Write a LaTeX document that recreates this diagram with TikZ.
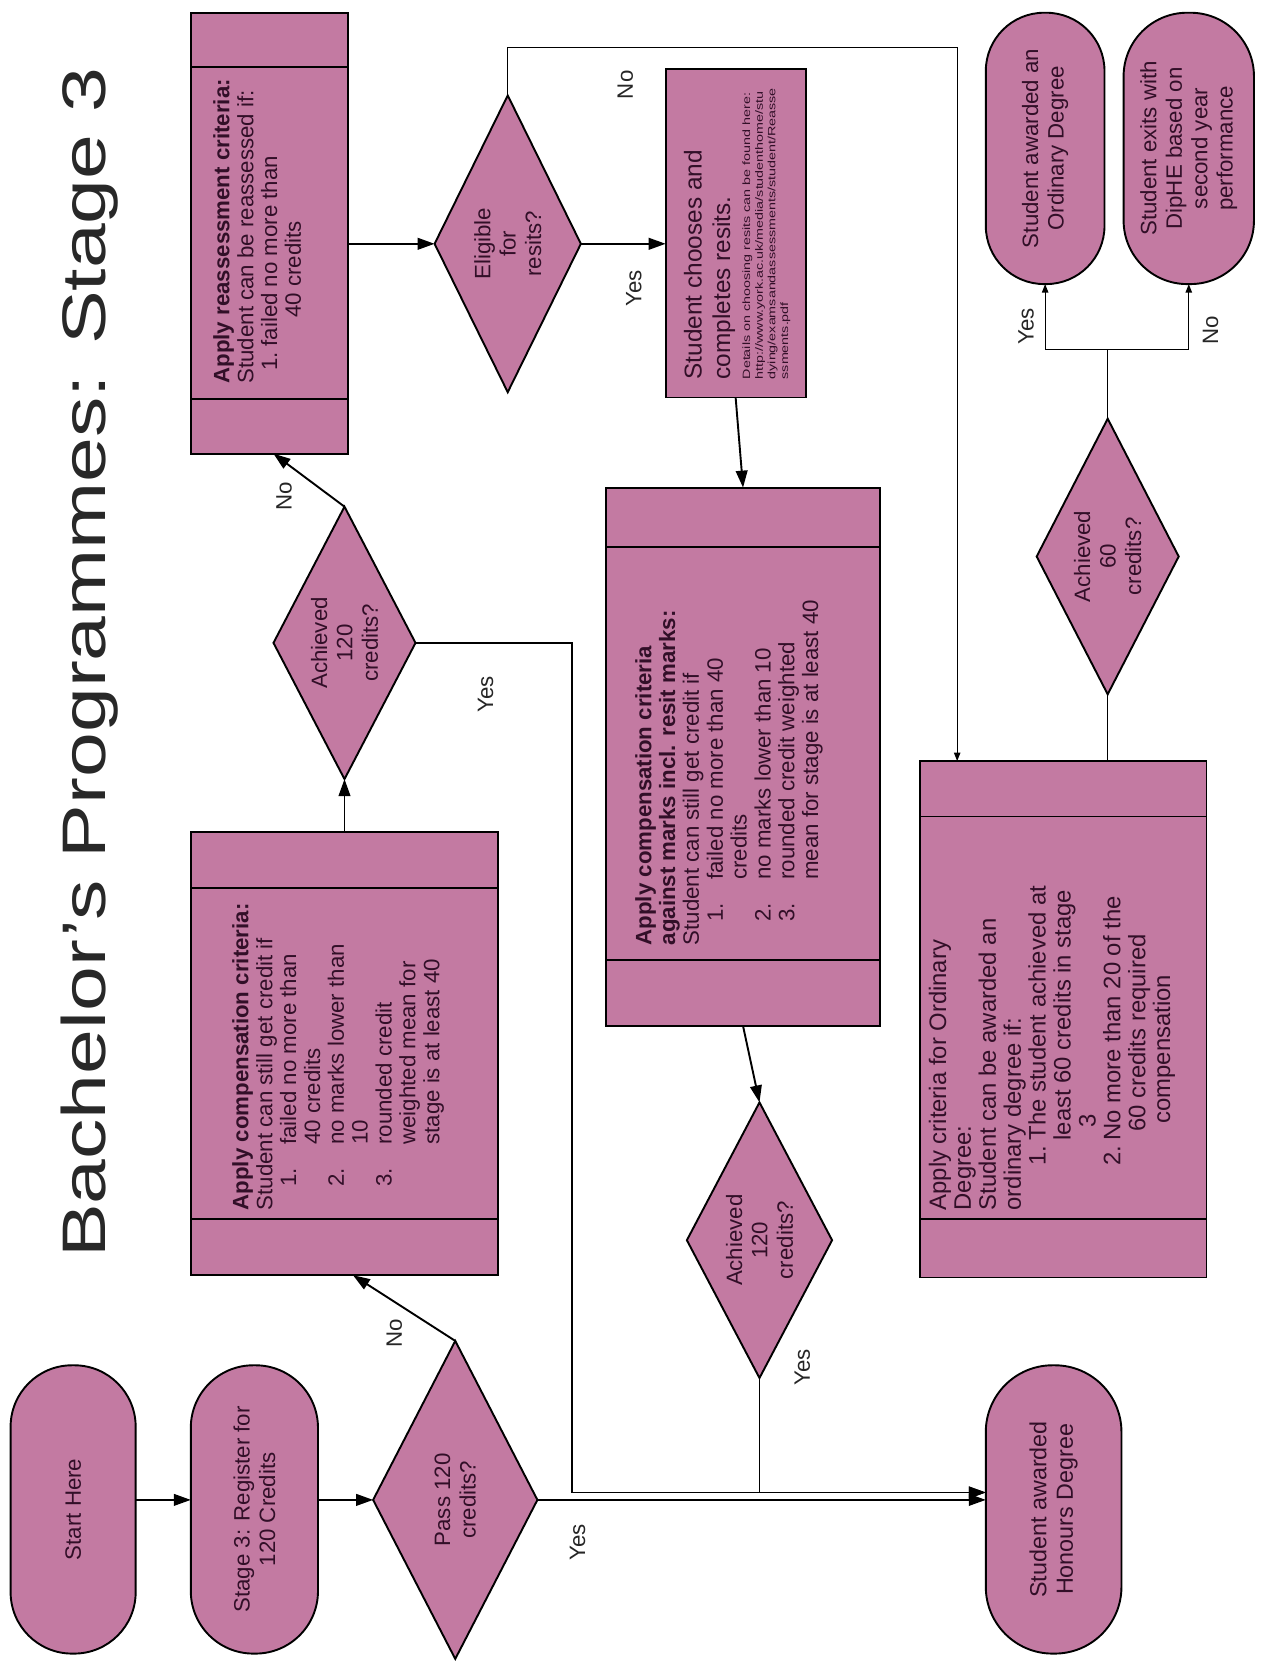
\documentclass[tikz,border=0pt]{standalone}
\usepackage{fontspec}
\setmainfont{Liberation Sans}
\usetikzlibrary{shapes.geometric,arrows.meta,calc}
\definecolor{boxfill}{RGB}{195,122,162}
\definecolor{boxtext}{RGB}{50,15,40}
\definecolor{titlegray}{RGB}{40,40,40}
\newcommand{\myitem}[1]{\makebox[22pt]{}\makebox[40pt][l]{#1}}
\newcommand{\mycont}[1]{\makebox[#1]{}}
\begin{document}
\begin{tikzpicture}[x=1pt,y=-1pt,
  shp/.style={draw=black, line width=1.8pt, fill=boxfill, inner sep=0pt, outer sep=0pt},
  procbox/.style={shp, rectangle},
  termbox/.style={shp, rectangle, rounded corners=#1},
  diabox/.style={shp, diamond},
  ctext/.style={rotate=90, align=center, text=boxtext, inner sep=0pt, font=\fontsize{21}{24}\selectfont},
  btext/.style={rotate=90, anchor=north west, align=left, text=boxtext, inner sep=0pt, font=\fontsize{21}{22.5}\selectfont},
  lbl/.style={rotate=90, text=black!85, inner sep=0pt, font=\fontsize{21}{24}\selectfont},
  conn/.style={line width=1.8pt},
  arr/.style={conn, -{Triangle[length=16pt,width=11pt]}},
  thinconn/.style={line width=1.1pt},
  thinarr/.style={thinconn, -{Triangle[length=8pt,width=6pt]}}
]
\useasboundingbox (0,0) rectangle (1190,1567);
\fill[white] (0,0) rectangle (1190,1567);

% title
\node[rotate=90, inner sep=0pt, text=titlegray, font=\fontsize{58}{60}\selectfont] (title) at (85,625) {\scalebox{1.31}[1]{Bachelor’s Programmes: Stage 3}};

% shapes
\node[termbox=58pt, minimum width=118pt, minimum height=272pt] (start) at (69,1424) {};
\node[termbox=59pt, minimum width=120pt, minimum height=272pt] (reg) at (240,1424) {};
\node[diabox, minimum width=155pt, minimum height=300pt] (pass) at (429.5,1415) {};
\node[procbox, minimum width=290pt, minimum height=418pt] (comp1) at (325,994) {};
\node[diabox, minimum width=134pt, minimum height=257pt] (ach1) at (325,606.5) {};
\node[procbox, minimum width=148pt, minimum height=416pt] (reass) at (254,220) {};
\node[diabox, minimum width=138pt, minimum height=280pt] (elig) at (479,230) {};
\node[procbox, minimum width=132pt, minimum height=310pt] (choose) at (694,220) {};
\node[procbox, minimum width=258pt, minimum height=508pt] (comp2) at (701,714) {};
\node[diabox, minimum width=137pt, minimum height=260pt] (ach2) at (716.5,1170) {};
\node[termbox=63pt, minimum width=128pt, minimum height=272pt] (hon) at (994,1424) {};
\node[procbox, line width=1.2pt, minimum width=270pt, minimum height=487pt] (ordbox) at (1003,961.5) {};
\node[diabox, minimum width=134pt, minimum height=260pt] (ach3) at (1045,525) {};
\node[termbox=55pt, minimum width=112pt, minimum height=256pt] (ordterm) at (986,140) {};
\node[termbox=60pt, minimum width=123pt, minimum height=256pt] (dipterm) at (1121.5,140) {};

% process side bars
\draw[conn] ($(reass.north west)+(0,51)$) -- ($(reass.north east)+(0,51)$);
\draw[conn] ($(reass.south west)+(0,-52)$) -- ($(reass.south east)+(0,-52)$);
\draw[conn] ($(comp1.north west)+(0,53)$) -- ($(comp1.north east)+(0,53)$);
\draw[conn] ($(comp1.south west)+(0,-53)$) -- ($(comp1.south east)+(0,-53)$);
\draw[conn] ($(comp2.north west)+(0,56)$) -- ($(comp2.north east)+(0,56)$);
\draw[conn] ($(comp2.south west)+(0,-62)$) -- ($(comp2.south east)+(0,-62)$);
\draw[line width=1.2pt] ($(ordbox.north west)+(0,52)$) -- ($(ordbox.north east)+(0,52)$);
\draw[line width=1.2pt] ($(ordbox.south west)+(0,-55)$) -- ($(ordbox.south east)+(0,-55)$);

% texts in shapes
\node[ctext] (startT) at (start.center) {Start Here};
\node[ctext] (regT) at (reg.center) {Stage 3: Register for\\120 Credits};
\node[ctext] (passT) at (pass.center) {Pass 120\\credits?};
\node[ctext] (ach1T) at (ach1.center) {Achieved\\120\\credits?};
\node[ctext] (eligT) at (elig.center) {Eligible\\for\\resits?};
\node[ctext] (ach2T) at (ach2.center) {Achieved\\120\\credits?};
\node[ctext] (ach3T) at (ach3.center) {Achieved\\60\\credits?};
\node[ctext, font=\fontsize{22}{25}\selectfont] (honT) at (hon.center) {Student awarded\\Honours Degree};
\node[ctext] (ordT) at (ordterm.center) {Student awarded an\\Ordinary Degree};
\node[ctext] (dipT) at (dipterm.center) {Student exits with\\DipHE based on\\second year\\performance};

\node[btext] (reassT) at (201,362) {\textbf{Apply reassessment criteria:}\\
Student can be reassessed if:\\
\mycont{12pt}\makebox[23pt][l]{1.}failed no more than\\
\mycont{62pt}40 credits};

\node[btext] (comp1T) at (219,1142) {\textbf{Apply compensation criteria:}\\
Student can still get credit if\\
\myitem{1.}failed no more than\\
\mycont{62pt}40 credits\\
\myitem{2.}no marks lower than\\
\mycont{62pt}10\\
\myitem{3.}rounded credit\\
\mycont{62pt}weighted mean for\\
\mycont{62pt}stage is at least 40};

\node[btext] (comp2T) at (599,892) {\textbf{Apply compensation criteria}\\
\textbf{against marks incl. resit marks:}\\
Student can still get credit if\\
\myitem{1.}failed no more than 40\\
\mycont{62pt}credits\\
\myitem{2.}no marks lower than 10\\
\myitem{3.}rounded credit weighted\\
\mycont{62pt}mean for stage is at least 40};

\node[btext, font=\fontsize{22.5}{23.5}\selectfont] (ordT2) at (876,1142) {Apply criteria for Ordinary\\
Degree:\\
Student can be awarded an\\
ordinary degree if:\\
\mycont{42pt}\makebox[24pt][l]{1.}The student achieved at\\
\mycont{66pt}least 60 credits in stage\\
\mycont{78pt}3\\
\mycont{42pt}\makebox[24pt][l]{2.}No more than 20 of the\\
\mycont{74pt}60 credits required\\
\mycont{82pt}compensation};

\node[btext, font=\fontsize{23}{27}\selectfont] (chooseT) at (645,358) {Student chooses and\\completes resits.};
\node[btext, font=\fontsize{10}{12}\selectfont] (detailsT) at (699,358) {\scalebox{1.35}[1]{\begin{tabular}[t]{@{}l@{}}Details on choosing resits can be found here:\\
http://www.york.ac.uk/media/studenthome/stu\\
dying/examsandassessments/student/Reasse\\
ssments.pdf\end{tabular}}};

% connectors
\coordinate (bend1) at (540,1408);
\draw[arr] (start.east |- pass.west) -- (reg.west |- pass.west);
\draw[arr] (reg.east |- pass.west) -- (pass.west);
\draw[arr] (pass.north) -- ($(comp1.south)+(8,0)$);
\draw[arr] (pass.east) -- (hon.west |- pass.east);
\draw[arr] (comp1.north) -- (ach1.south);
\draw[arr] (ach1.north) -- (reass.south -| ach1.west);
\draw[arr] (ach1.east) -| (bend1) -- (bend1 -| hon.west);
\draw[arr] (reass.east |- elig.west) -- (elig.west);
\draw[arr] (elig.east) -- (choose.west |- elig.east);
\draw[thinarr] (elig.north) -- ++(0,-45) -| ($(ordbox.north west)+(35,0)$);
\draw[arr] (choose.south) -- (comp2.north);
\draw[arr] (comp2.south) -- (ach2.north);
\draw[arr] (ach2.south) |- (bend1 -| hon.west);
\draw[thinconn] (ordbox.north -| ach3.south) -- (ach3.south);
\draw[thinarr] (ach3.north) -- ++(0,-65) -| (ordterm.south);
\draw[thinarr] (ach3.north) -- ++(0,-65) -| (dipterm.south);

% labels
\node[lbl] (l1) at (372,1258) {No};
\node[lbl] (l2) at (545,1455) {Yes};
\node[lbl] (l3) at (268,468) {No};
\node[lbl] (l4) at (458,655) {Yes};
\node[lbl] (l5) at (590,80) {No};
\node[lbl] (l6) at (598,272) {Yes};
\node[lbl] (l7) at (757,1290) {Yes};
\node[lbl] (l8) at (968,308) {Yes};
\node[lbl] (l9) at (1142,312) {No};
\end{tikzpicture}
\end{document}
